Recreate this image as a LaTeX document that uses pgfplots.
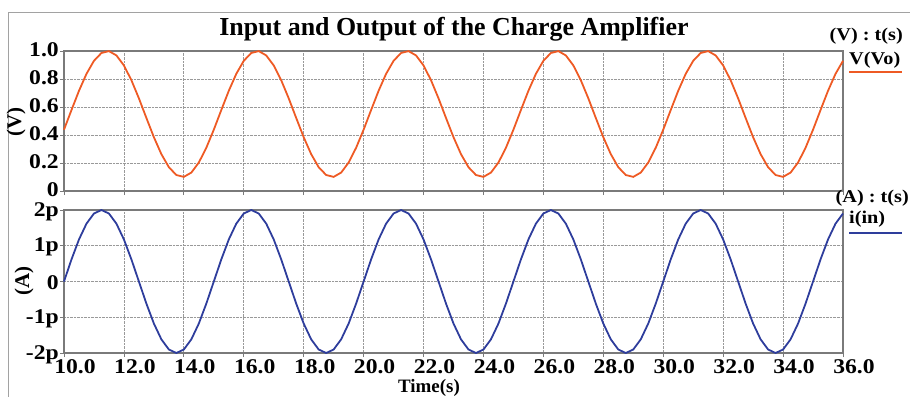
\documentclass[border=0pt]{standalone}
\usepackage{pgfplots}
\usepackage{pgfplotstable}
\pgfplotsset{compat=1.18}
\usepackage{fontspec}
\setmainfont{Liberation Serif}
\newfontfamily\widefont[FakeStretch=1.13]{Liberation Serif}

\definecolor{vcol}{HTML}{EE5A24}
\definecolor{icol}{HTML}{2E3D9C}
\definecolor{framecol}{HTML}{7A7A7A}

% t (s), V(Vo) (V), i(in) (pA)
\pgfplotstableread{
t V I
10.00 0.4381 0
10.25 0.5783 0.618
10.50 0.7157 1.176
10.75 0.8368 1.618
11.00 0.9299 1.902
11.25 0.9859 2
11.50 0.9991 1.902
11.75 0.9684 1.618
12.00 0.8967 1.176
12.25 0.7911 0.618
12.50 0.6619 0
12.75 0.5217 -0.618
13.00 0.3843 -1.176
13.25 0.2632 -1.618
13.50 0.1701 -1.902
13.75 0.1141 -2
14.00 0.1009 -1.902
14.25 0.1316 -1.618
14.50 0.2033 -1.176
14.75 0.3089 -0.618
15.00 0.4381 0
15.25 0.5783 0.618
15.50 0.7157 1.176
15.75 0.8368 1.618
16.00 0.9299 1.902
16.25 0.9859 2
16.50 0.9991 1.902
16.75 0.9684 1.618
17.00 0.8967 1.176
17.25 0.7911 0.618
17.50 0.6619 0
17.75 0.5217 -0.618
18.00 0.3843 -1.176
18.25 0.2632 -1.618
18.50 0.1701 -1.902
18.75 0.1141 -2
19.00 0.1009 -1.902
19.25 0.1316 -1.618
19.50 0.2033 -1.176
19.75 0.3089 -0.618
20.00 0.4381 0
20.25 0.5783 0.618
20.50 0.7157 1.176
20.75 0.8368 1.618
21.00 0.9299 1.902
21.25 0.9859 2
21.50 0.9991 1.902
21.75 0.9684 1.618
22.00 0.8967 1.176
22.25 0.7911 0.618
22.50 0.6619 0
22.75 0.5217 -0.618
23.00 0.3843 -1.176
23.25 0.2632 -1.618
23.50 0.1701 -1.902
23.75 0.1141 -2
24.00 0.1009 -1.902
24.25 0.1316 -1.618
24.50 0.2033 -1.176
24.75 0.3089 -0.618
25.00 0.4381 0
25.25 0.5783 0.618
25.50 0.7157 1.176
25.75 0.8368 1.618
26.00 0.9299 1.902
26.25 0.9859 2
26.50 0.9991 1.902
26.75 0.9684 1.618
27.00 0.8967 1.176
27.25 0.7911 0.618
27.50 0.6619 0
27.75 0.5217 -0.618
28.00 0.3843 -1.176
28.25 0.2632 -1.618
28.50 0.1701 -1.902
28.75 0.1141 -2
29.00 0.1009 -1.902
29.25 0.1316 -1.618
29.50 0.2033 -1.176
29.75 0.3089 -0.618
30.00 0.4381 0
30.25 0.5783 0.618
30.50 0.7157 1.176
30.75 0.8368 1.618
31.00 0.9299 1.902
31.25 0.9859 2
31.50 0.9991 1.902
31.75 0.9684 1.618
32.00 0.8967 1.176
32.25 0.7911 0.618
32.50 0.6619 0
32.75 0.5217 -0.618
33.00 0.3843 -1.176
33.25 0.2632 -1.618
33.50 0.1701 -1.902
33.75 0.1141 -2
34.00 0.1009 -1.902
34.25 0.1316 -1.618
34.50 0.2033 -1.176
34.75 0.3089 -0.618
35.00 0.4381 0
35.25 0.5783 0.618
35.50 0.7157 1.176
35.75 0.8368 1.618
36.00 0.9299 1.902
}\signals

\pgfplotsset{
  scope/.style={
    scale only axis,
    width=779bp,
    xmin=10, xmax=36,
    xtick={10,12,...,36},
    grid=major,
    major grid style={densely dotted, line width=0.7pt, gray!80},
    axis line style={framecol, line width=1.3pt},
    tick style={framecol, line width=0.8pt},
    tick align=outside,
    major tick length=4bp,
    xtick pos=bottom, ytick pos=left,
    tick label style={font=\widefont\bfseries\fontsize{21}{21}\selectfont, inner sep=1bp},
    yticklabel style={anchor=east},
    xticklabel style={anchor=north, xshift=11bp, yshift=-1bp},
    /pgf/number format/assume math mode=true,
    clip=false,
  },
}

\begin{document}
\begin{tikzpicture}
\path[use as bounding box] (0,0) rectangle (910bp,-397bp);
\draw[framecol!70, line width=1pt] (8bp,-400bp) -- (8bp,-12bp) -- (910bp,-12bp);

% output voltage
\begin{axis}[scope,
  at={(64bp,-191bp)}, anchor=south west,
  height=140bp,
  ymin=0, ymax=1,
  ytick={0,0.2,0.4,0.6,0.8,1.0},
  yticklabels={0,0.2,0.4,0.6,0.8,1.0},
  yticklabel style={yshift=1.5bp},
  xticklabels={},
]
\addplot[vcol, line width=1.8pt] table[x=t, y=V] {\signals};
\end{axis}

% input current
\begin{axis}[scope,
  at={(64bp,-353bp)}, anchor=south west,
  height=143bp,
  ymin=-2, ymax=2,
  ytick={-2,-1,0,1,2},
  yticklabels={-2p,-1p,0,1p,2p},
  yticklabel style={yshift=-1.5bp},
  xticklabels={10.0,12.0,14.0,16.0,18.0,20.0,22.0,24.0,26.0,28.0,30.0,32.0,34.0,36.0},
]
\addplot[icol, line width=1.8pt] table[x=t, y=I] {\signals};
\end{axis}

\node[font=\bfseries\fontsize{26}{26}\selectfont] at (454bp,-29bp) {Input and Output of the Charge Amplifier};
\node[font=\bfseries\fontsize{21}{21}\selectfont, rotate=90] at (16bp,-122bp) {(V)};
\node[font=\bfseries\fontsize{21}{21}\selectfont, rotate=90] at (24bp,-281bp) {(A)};
\node[font=\bfseries\fontsize{19}{19}\selectfont, inner sep=0pt] at (429bp,-388bp) {Time(s)};

\node[font=\widefont\bfseries\fontsize{18}{18}\selectfont, anchor=east, inner sep=0pt] at (903bp,-36bp) {(V) : t(s)};
\node[font=\widefont\bfseries\fontsize{18}{18}\selectfont, anchor=west, inner sep=0pt] at (849bp,-60bp) {V(Vo)};
\draw[vcol, line width=1.6pt] (849bp,-72bp) -- (902bp,-72bp);
\node[font=\widefont\bfseries\fontsize{18}{18}\selectfont, anchor=east, inner sep=0pt] at (909bp,-198bp) {(A) : t(s)};
\node[font=\widefont\bfseries\fontsize{18}{18}\selectfont, anchor=west, inner sep=0pt] at (849bp,-219bp) {i(in)};
\draw[icol, line width=1.6pt] (849bp,-233bp) -- (902bp,-233bp);
\end{tikzpicture}
\end{document}
